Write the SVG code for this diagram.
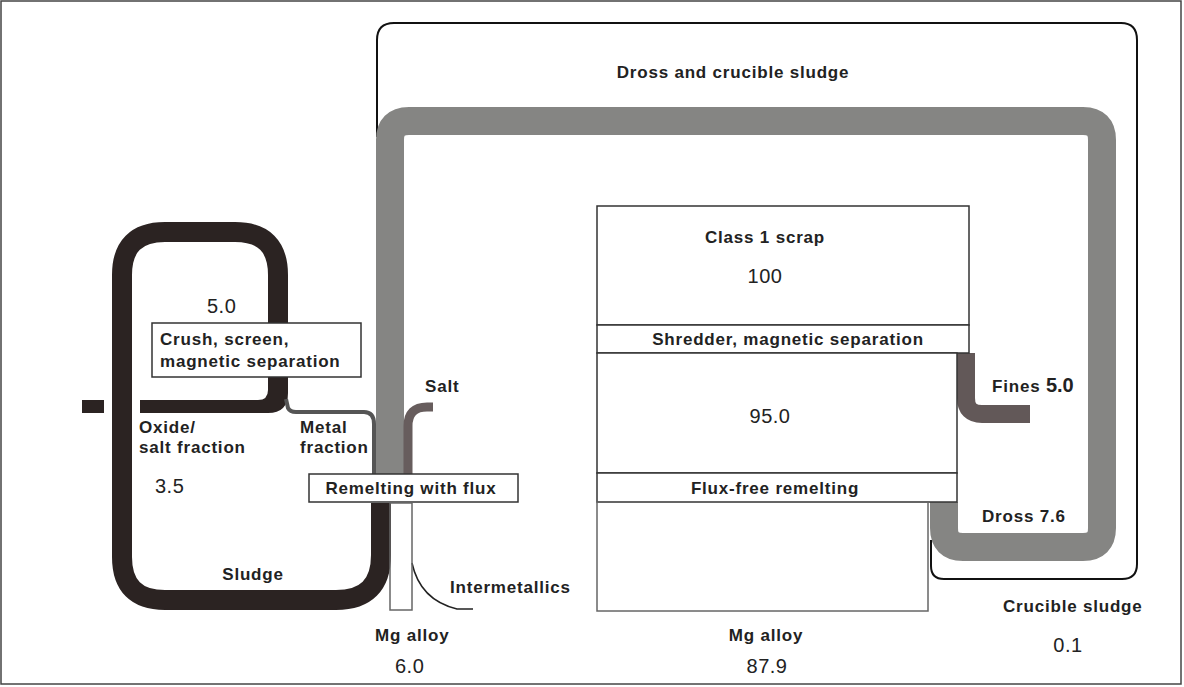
<svg xmlns="http://www.w3.org/2000/svg" width="1184" height="687" viewBox="0 0 1184 687">
<style>
.lbl{font-family:"Liberation Sans",Arial,sans-serif;font-weight:bold;font-size:17px;letter-spacing:0.8px;fill:#222}
.num{font-family:"Liberation Sans",Arial,sans-serif;font-size:20px;letter-spacing:0.5px;fill:#222}
.numb{font-family:"Liberation Sans",Arial,sans-serif;font-weight:bold;font-size:20px;fill:#222}
.box{fill:#fff;stroke:#333;stroke-width:1.5}
.thin{fill:none;stroke:#666;stroke-width:1.5}
.dross{fill:none;stroke:#858583;stroke-width:28}
.sludge{fill:none;stroke:#2b2322;stroke-width:20}
.salt{fill:none;stroke:#675d5d;stroke-width:9}
.fines{fill:none;stroke:#625858;stroke-width:18}
</style>
<rect x="1" y="1" width="1180" height="683" fill="#fff" stroke="#444" stroke-width="1.5"/>

<g id="connectors">
  <!-- dross and crucible sludge outline -->
  <path d="M377,137 L377,40 Q377,23 394,23 L1121,23 Q1137,23 1137,40 L1137,564 Q1137,579 1122,579 L944,579 Q931,579 931,566 L931,540" fill="none" stroke="#111" stroke-width="2"/>
  <!-- dross band -->
  <path class="dross" d="M390,474 L390,140 Q390,121 409,121 L1083,121 Q1102,121 1102,140 L1102,528 Q1102,547 1083,547 L963,547 Q944,547 944,528 L944,502"/>
  <!-- sludge loop -->
  <path class="sludge" d="M381,503 L381,555 Q381,600 336,600 L165,600 Q122,600 122,557 L122,275 Q122,232 165,232 L235,232 Q278,232 278,275 L278,382"/>
  <path d="M268,380 L268,390 Q268,400 258,400 L140,400 L140,413 L268,413 Q288,413 288,393 L288,380 Z" fill="#2b2322"/>
  <rect x="82" y="400" width="22" height="13" fill="#2b2322"/>
  <!-- metal fraction -->
  <path d="M286,399 L288,408 Q290,412 296,412 L364,412 Q374,412 374,424 L374,474" fill="none" stroke="#555" stroke-width="4"/>
  <!-- salt -->
  <path class="salt" d="M408,474 L408,426 Q408,407 427,407 L433,407"/>
  <!-- intermetallics -->
  <path d="M412,563 Q420,600 457,609 L473,609" fill="none" stroke="#222" stroke-width="1.5"/>
  <!-- fines -->
  <path class="fines" d="M966,353 L966,398 Q966,414 982,414 L1030,414"/>
</g>

<g id="crush-screen">
  <rect class="box" x="152" y="323" width="209" height="54"/>
  <text class="lbl" x="160" y="345">Crush, screen,</text>
  <text class="lbl" x="160" y="367">magnetic separation</text>
</g>

<g id="remelting-flux">
  <rect class="box" x="309" y="474" width="209" height="28"/>
  <text class="lbl" x="411" y="494" text-anchor="middle">Remelting with flux</text>
</g>

<g id="mg-alloy-small">
  <rect class="thin" x="390" y="503" width="22" height="107"/>
</g>

<g id="class1-scrap">
  <rect class="box" x="597" y="206" width="372" height="119"/>
  <text class="lbl" x="765" y="243" text-anchor="middle">Class 1 scrap</text>
  <text class="num" x="765" y="283" text-anchor="middle">100</text>
</g>

<g id="shredder">
  <rect class="box" x="597" y="325" width="372" height="28"/>
  <text class="lbl" x="788" y="345" text-anchor="middle">Shredder, magnetic separation</text>
</g>

<g id="intermediate-95">
  <rect class="box" x="597" y="353" width="360" height="120"/>
  <text class="num" x="770" y="423" text-anchor="middle">95.0</text>
</g>

<g id="flux-free">
  <rect class="box" x="597" y="473" width="360" height="29"/>
  <text class="lbl" x="775" y="494" text-anchor="middle">Flux-free remelting</text>
</g>

<g id="mg-alloy-main">
  <rect class="thin" x="597" y="502" width="331" height="109"/>
</g>

<g id="labels">
  <text class="lbl" x="733" y="78" text-anchor="middle">Dross and crucible sludge</text>
  <text class="num" x="207" y="313">5.0</text>
  <text class="lbl" x="139" y="433">Oxide/</text>
  <text class="lbl" x="139" y="453">salt fraction</text>
  <text class="num" x="155" y="493">3.5</text>
  <text class="lbl" x="300" y="433">Metal</text>
  <text class="lbl" x="300" y="453">fraction</text>
  <text class="lbl" x="253" y="580" text-anchor="middle">Sludge</text>
  <text class="lbl" x="425" y="392">Salt</text>
  <text class="lbl" x="450" y="593">Intermetallics</text>
  <text class="lbl" x="375" y="641">Mg alloy</text>
  <text class="num" x="395" y="673">6.0</text>
  <text class="lbl" x="766" y="641" text-anchor="middle">Mg alloy</text>
  <text class="num" x="767" y="673" text-anchor="middle">87.9</text>
  <text x="992" y="392"><tspan class="lbl">Fines </tspan><tspan class="numb">5.0</tspan></text>
  <text class="lbl" x="982" y="522">Dross 7.6</text>
  <text class="lbl" x="1003" y="612">Crucible sludge</text>
  <text class="num" x="1068" y="652" text-anchor="middle">0.1</text>
</g>
</svg>
